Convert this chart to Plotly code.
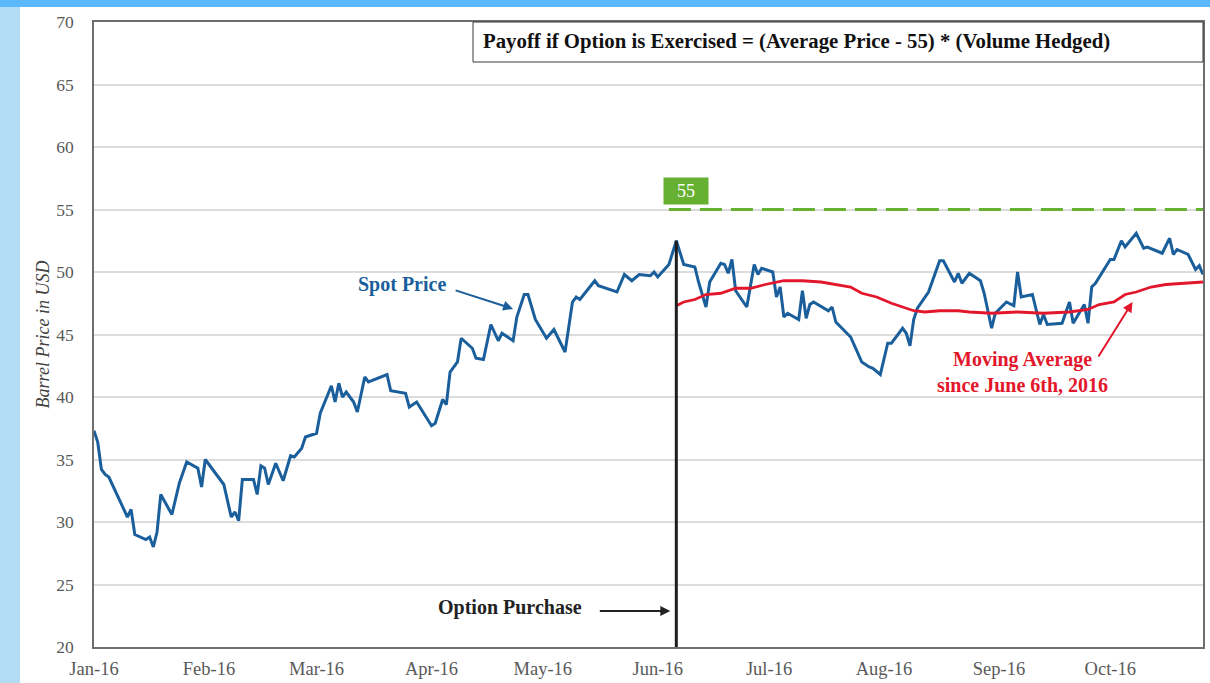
import plotly.graph_objects as go

# ---------------- data ----------------
spot_dates = [
    "2016-01-01","2016-01-02","2016-01-03","2016-01-04","2016-01-05","2016-01-10","2016-01-11","2016-01-12",
    "2016-01-15","2016-01-16","2016-01-17","2016-01-18","2016-01-19","2016-01-22","2016-01-24","2016-01-26",
    "2016-01-29","2016-01-30","2016-01-31",
    "2016-02-05","2016-02-07","2016-02-08","2016-02-09","2016-02-10","2016-02-13","2016-02-14","2016-02-15",
    "2016-02-16","2016-02-17","2016-02-19","2016-02-21","2016-02-23","2016-02-24","2016-02-26","2016-02-27",
    "2016-03-01","2016-03-02","2016-03-05","2016-03-06","2016-03-07","2016-03-08","2016-03-09","2016-03-11",
    "2016-03-12","2016-03-14","2016-03-15","2016-03-20","2016-03-21","2016-03-25","2016-03-26","2016-03-28",
    "2016-03-30",
    "2016-04-01","2016-04-02","2016-04-04","2016-04-05","2016-04-06","2016-04-08","2016-04-09","2016-04-12",
    "2016-04-13","2016-04-15","2016-04-17","2016-04-19","2016-04-20","2016-04-23","2016-04-24","2016-04-26",
    "2016-04-27","2016-04-29",
    "2016-05-02","2016-05-04","2016-05-07","2016-05-09","2016-05-10","2016-05-11","2016-05-15","2016-05-16",
    "2016-05-21","2016-05-23","2016-05-25","2016-05-27","2016-05-30","2016-05-31",
    "2016-06-01","2016-06-04","2016-06-06","2016-06-08","2016-06-11","2016-06-12","2016-06-14","2016-06-15",
    "2016-06-18","2016-06-19","2016-06-20","2016-06-21","2016-06-22","2016-06-25","2016-06-27","2016-06-28",
    "2016-06-29",
    "2016-07-02","2016-07-03","2016-07-04","2016-07-05","2016-07-06","2016-07-09","2016-07-10","2016-07-11",
    "2016-07-12","2016-07-13","2016-07-17","2016-07-18","2016-07-19","2016-07-23","2016-07-26","2016-07-28",
    "2016-07-29","2016-07-31",
    "2016-08-02","2016-08-03","2016-08-06","2016-08-07","2016-08-08","2016-08-09","2016-08-10","2016-08-13",
    "2016-08-16","2016-08-17","2016-08-20","2016-08-21","2016-08-22","2016-08-24","2016-08-27","2016-08-28",
    "2016-08-30","2016-08-31",
    "2016-09-03","2016-09-05","2016-09-06","2016-09-07","2016-09-10","2016-09-12","2016-09-13","2016-09-14",
    "2016-09-18","2016-09-20","2016-09-21","2016-09-24","2016-09-25","2016-09-26","2016-09-27",
    "2016-10-01","2016-10-02","2016-10-04","2016-10-05","2016-10-08","2016-10-10","2016-10-11","2016-10-15",
    "2016-10-17","2016-10-18","2016-10-19","2016-10-22","2016-10-24","2016-10-25","2016-10-26",
]
spot_prices = [
    37.3, 36.4, 34.2, 33.8, 33.6, 30.4, 31.0, 29.0, 28.6, 28.8, 28.0, 29.2, 32.2, 30.6, 33.1, 34.8, 34.3, 32.8, 35.0,
    33.0, 30.4, 30.8, 30.1, 33.4, 33.4, 32.2, 34.5, 34.3, 33.0, 34.7, 33.3, 35.3, 35.2, 35.9, 36.8,
    37.1, 38.7, 40.9, 39.6, 41.1, 40.0, 40.4, 39.6, 38.8, 41.6, 41.2, 41.8, 40.5, 40.3, 39.2, 39.6, 38.7,
    37.7, 37.9, 39.8, 39.4, 42.0, 42.8, 44.7, 43.9, 43.1, 43.0, 45.8, 44.5, 45.1, 44.5, 46.4, 48.2, 48.2, 46.2,
    44.7, 45.4, 43.6, 47.6, 48.0, 47.8, 49.3, 48.9, 48.4, 49.8, 49.3, 49.8, 49.7, 50.0,
    49.6, 50.6, 52.5, 50.6, 50.4, 49.2, 47.2, 49.2, 50.7, 50.6, 49.9, 51.0, 48.5, 47.2, 50.6, 49.8, 50.3,
    50.0, 48.0, 48.8, 46.4, 46.7, 46.2, 48.5, 46.3, 47.4, 47.6, 46.9, 47.2, 46.0, 44.8, 42.8, 42.4, 42.3, 41.8,
    44.3, 44.3, 45.5, 45.1, 44.1, 46.2, 47.1, 48.4, 50.9, 50.9, 49.2, 49.9, 49.1, 49.9, 49.3, 48.3, 45.5, 46.7,
    47.6, 47.3, 50.0, 48.0, 48.2, 45.8, 46.6, 45.8, 45.9, 47.6, 45.9, 47.4, 45.9, 48.8, 49.1,
    51.0, 51.0, 52.5, 52.0, 53.1, 51.9, 52.0, 51.5, 52.7, 51.4, 51.8, 51.4, 50.2, 50.5, 49.8,
]

ma_dates = [
    "2016-06-06","2016-06-08","2016-06-11","2016-06-14","2016-06-18","2016-06-22","2016-06-26","2016-06-30",
    "2016-07-05","2016-07-10","2016-07-15","2016-07-19","2016-07-23","2016-07-26","2016-07-30","2016-08-03",
    "2016-08-06","2016-08-09","2016-08-12","2016-08-16","2016-08-21","2016-08-24","2016-08-30","2016-09-06",
    "2016-09-13","2016-09-20","2016-09-25","2016-09-28","2016-10-02","2016-10-05","2016-10-08","2016-10-12",
    "2016-10-16","2016-10-21","2016-10-26",
]
ma_values = [
    47.3, 47.6, 47.8, 48.2, 48.3, 48.7, 48.7, 49.0, 49.3, 49.3, 49.2, 49.0, 48.8, 48.3, 48.0, 47.5, 47.2, 46.9,
    46.8, 46.9, 46.9, 46.8, 46.7, 46.8, 46.7, 46.8, 47.0, 47.4, 47.6, 48.2, 48.4, 48.8, 49.0, 49.1, 49.2,
]

strike = 55
strike_start = "2016-06-04"
option_date = "2016-06-06"
option_price = 52.5
x_start, x_end = "2016-01-01", "2016-10-26"
y_min, y_max = 20, 70

title_text = "Payoff if Option is Exercised = (Average Price - 55) * (Volume Hedged)"

# ---------------- layout helpers ----------------
W, H = 1210, 683
ML, MR, MT, MB = 94, 7, 22, 36
PW, PH = W - ML - MR, H - MT - MB


def px(xp):
    return (xp - ML) / PW


def py(yp):
    return (H - MB - yp) / PH


FONT = "Liberation Serif"
BLUE = "#1a5f9c"
RED = "#e3172b"
GREEN = "#66b032"
GRAY = "#595959"
LBL = 20

fig = go.Figure()
fig.add_trace(go.Scatter(x=spot_dates, y=spot_prices, mode="lines",
                         line=dict(color=BLUE, width=3), hoverinfo="skip", showlegend=False))
fig.add_trace(go.Scatter(x=ma_dates, y=ma_values, mode="lines",
                         line=dict(color=RED, width=2.8), hoverinfo="skip", showlegend=False))

shapes = [
    # page decoration stripes
    dict(type="rect", xref="paper", yref="paper", x0=px(0), x1=px(20), y0=py(H), y1=py(0),
         fillcolor="#b3dcf4", line=dict(width=0), layer="below"),
    dict(type="rect", xref="paper", yref="paper", x0=px(0), x1=px(W), y0=py(7), y1=py(0),
         fillcolor="#5cb8fd", line=dict(width=0), layer="above"),
    # strike line
    dict(type="line", xref="x", yref="y", x0=strike_start, x1=x_end, y0=strike, y1=strike,
         line=dict(color=GREEN, width=3, dash="22px,9px")),
    # option purchase line
    dict(type="line", xref="x", yref="y", x0=option_date, x1=option_date, y0=y_min, y1=option_price,
         line=dict(color="#1e1e1e", width=3)),
    # title box
    dict(type="rect", xref="paper", yref="paper", x0=px(473), x1=1, y0=py(62), y1=1,
         fillcolor="white", line=dict(color="#3a3a3a", width=1)),
]

annotations = [
    dict(xref="paper", yref="paper", x=px(481), y=py(41), text="<b>" + title_text + "</b>",
         showarrow=False, font=dict(family=FONT, size=20.8, color="#111111"),
         xanchor="left", yanchor="middle"),
    # strike label
    dict(xref="paper", yref="paper", x=px(685.5), y=py(191), text=str(strike), showarrow=False,
         font=dict(family=FONT, size=18, color="white"), bgcolor=GREEN, width=40, height=22,
         borderpad=2, xanchor="center", yanchor="middle"),
    # Spot Price label and arrow
    dict(xref="paper", yref="paper", x=px(448), y=py(285), text="<b>Spot Price</b>", showarrow=False,
         font=dict(family=FONT, size=LBL, color=BLUE), xanchor="right", yanchor="middle"),
    dict(xref="x", yref="y", x="2016-04-23", y=47.05, text="", showarrow=True, ax=-59, ay=-19,
         arrowhead=2, arrowsize=1, arrowwidth=2, arrowcolor=BLUE),
    # Option Purchase label and arrow
    dict(xref="paper", yref="paper", x=px(510), y=py(607), text="<b>Option Purchase</b>", showarrow=False,
         font=dict(family=FONT, size=LBL, color="#222222"), xanchor="center", yanchor="middle"),
    dict(xref="x", yref="y", x=option_date, y=22.88, text="", showarrow=True, ax=-78, ay=0, standoff=6,
         arrowhead=2, arrowsize=1, arrowwidth=2, arrowcolor="#222222"),
    # Moving average label and arrow
    dict(xref="paper", yref="paper", x=px(1022), y=py(372),
         text="<b>Moving Average<br>since June 6th, 2016</b>", showarrow=False,
         font=dict(family=FONT, size=LBL, color=RED), xanchor="center", yanchor="middle"),
    dict(xref="x", yref="y", x="2016-10-07", y=47.6, text="", showarrow=True, ax=-35, ay=56,
         arrowhead=2, arrowsize=1, arrowwidth=2, arrowcolor=RED),
]

fig.update_layout(
    width=W, height=H, autosize=False,
    margin=dict(l=ML, r=MR, t=MT, b=MB, pad=0),
    paper_bgcolor="white", plot_bgcolor="white",
    font=dict(family=FONT, color=GRAY),
    shapes=shapes, annotations=annotations, showlegend=False,
    xaxis=dict(type="date", range=[x_start, x_end], dtick="M1", tick0="2016-01-01",
               tickformat="%b-%y", showgrid=False, zeroline=False, automargin=False,
               showline=True, linecolor="#6e6e6e", linewidth=1.5, mirror=True,
               ticks="", ticklabelstandoff=4, tickfont=dict(family=FONT, size=18.5, color=GRAY)),
    yaxis=dict(range=[y_min, y_max], dtick=5, tick0=20, showgrid=True, gridcolor="#dcdcdc", gridwidth=1.5,
               zeroline=False, showline=True, linecolor="#6e6e6e", linewidth=1.5, mirror=True,
               automargin=False, ticks="", ticklabelstandoff=15,
               tickfont=dict(family=FONT, size=17.5, color=GRAY),
               title=dict(text="<i>Barrel Price in USD</i>", standoff=2,
                          font=dict(family=FONT, size=18, color="#404040"))),
)

fig.write_html("out.html", config={"displayModeBar": False},
               post_script="document.body.style.margin='0px';")
